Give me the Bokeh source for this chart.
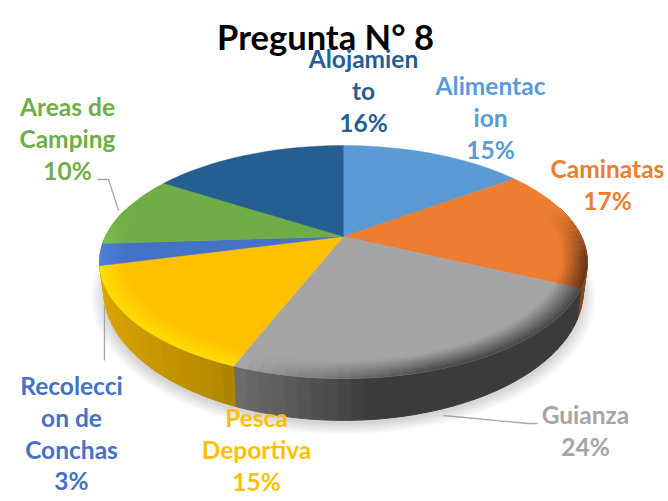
import numpy as np
from bokeh.plotting import figure
from bokeh.models import ColumnDataSource, Range1d
from bokeh.embed import file_html
from bokeh.resources import INLINE
from bokeh.core.properties import value

# ---- data
categories = ["Alimentacion", "Caminatas", "Guianza", "Pesca Deportiva",
              "Recoleccion de Conchas", "Areas de Camping", "Alojamiento"]
percents = [15, 17, 24, 15, 3, 10, 16]
label_lines = [["Alimentac", "ion", "15%"], ["Caminatas", "17%"], ["Guianza", "24%"],
               ["Pesca", "Deportiva", "15%"], ["Recolecci", "on de", "Conchas", "3%"],
               ["Areas de", "Camping", "10%"], ["Alojamien", "to", "16%"]]
colors = ["#5B9BD5", "#ED7D31", "#A5A5A5", "#FFC000", "#4472C4", "#70AD47", "#255E91"]
title = "Pregunta N\u00b0 8"

# ---- layout (page pixels of the reference)
label_x = [490, 607, 585, 256, 71, 67, 363]
label_y0 = [85, 168, 414, 417, 385, 106, 58]
LINE = 31.8
K = 0.219
TOP = dict(cx=343, cy=236, a=238, b=110.9)
BOT = dict(cx=343, cy=261.5, a=234, b=123.7)


def proj(phi, r, pl):
    x = r * np.sin(phi)
    y = r * np.cos(phi)
    d = 1 + K * y
    return pl["cx"] + pl["a"] * x / d, pl["cy"] - pl["b"] * y / d


def hex2rgb(c):
    return np.array([int(c[i:i + 2], 16) for i in (1, 3, 5)], float)


def rgb2hex(v):
    v = np.clip(np.round(v), 0, 255).astype(int)
    return "#%02x%02x%02x" % tuple(v)


p = figure(width=668, height=501, x_range=Range1d(0, 668), y_range=Range1d(501, 0),
           output_backend="svg", toolbar_location=None, min_border=0,
           background_fill_color="white", border_fill_color="white")
p.axis.visible = False
p.grid.visible = False
p.outline_line_color = None

fr = np.cumsum([0] + percents) / sum(percents) * 2 * np.pi
STEP = np.radians(2.5)

# soft shadow under the pie
full = np.linspace(0, 2 * np.pi, 180)
for i in range(7):
    sx, sy = proj(full, 1.0 + 0.008 * (6 - i), dict(BOT, cy=BOT["cy"] + 4))
    p.patch(sx, sy, fill_color="#000000", fill_alpha=0.022, line_color=None)

# sides (the far-left rim shows the gold of the neighbouring slice)
xs, ys, cs = [], [], []
for i, c in enumerate(colors):
    n = max(2, int((fr[i + 1] - fr[i]) / STEP))
    e = np.linspace(fr[i], fr[i + 1], n + 1)
    side = colors[3] if i in (4, 5) else c
    for a0, a1 in zip(e[:-1], e[1:]):
        if np.cos((a0 + a1) / 2) > 0.25:
            continue
        t0 = proj(np.array([a0, a1]), 1, TOP)
        b0 = proj(np.array([a1, a0]), 1, BOT)
        xs.append(list(t0[0]) + list(b0[0]))
        ys.append(list(t0[1]) + list(b0[1]))
        f = np.interp(np.sin((a0 + a1) / 2), [-1, -.45, .1, 1], [.88, .72, .36, .36])
        if i == 1:
            f = .58
        cs.append(rgb2hex(hex2rgb(side) * f))
p.patches("x", "y", source=ColumnDataSource(dict(x=xs, y=ys, c=cs)),
          fill_color="c", line_color="c", line_width=1.0)

# top faces
for i, c in enumerate(colors):
    n = max(2, int((fr[i + 1] - fr[i]) / STEP))
    e = np.linspace(fr[i], fr[i + 1], n + 1)
    fx, fy = proj(e, 1, TOP)
    p.patch([TOP["cx"]] + list(fx), [TOP["cy"]] + list(fy), fill_color=c, line_color=c, line_width=0.4)

# bevel
RINGS = np.linspace(0.90, 1.0, 9)
xs, ys, cs = [], [], []
for i, c in enumerate(colors):
    base = hex2rgb(c)
    n = max(2, int((fr[i + 1] - fr[i]) / STEP))
    e = np.linspace(fr[i], fr[i + 1], n + 1)
    for a0, a1 in zip(e[:-1], e[1:]):
        m = (a0 + a1) / 2
        w = np.clip((0.25 - np.cos(m)) / 0.45, 0, 1)
        if w <= 0:
            continue
        sx = np.sin(m)
        if i == 3:
            tgt = np.array([255, 222, 0.])
        else:
            tgt = base * np.interp(sx, [-1, -.5, -.2, .3, 1], [1.15, 1.2, .85, .42, .42])
        for j, (r0, r1) in enumerate(zip(RINGS[:-1], RINGS[1:])):
            t = (j + .5) / (len(RINGS) - 1)
            col = base + (tgt - base) * w * t
            o = proj(np.array([a0, a1]), r1, TOP)
            q = proj(np.array([a1, a0]), r0, TOP)
            xs.append(list(o[0]) + list(q[0]))
            ys.append(list(o[1]) + list(q[1]))
            cs.append(rgb2hex(col))
p.patches("x", "y", source=ColumnDataSource(dict(x=xs, y=ys, c=cs)),
          fill_color="c", line_color="c", line_width=0.5)

# leader lines
p.line([97, 108, 118], [179, 179, 210], line_color="#A6A6A6", line_width=1.3)
p.line([104, 104], [305, 360], line_color="#A6A6A6", line_width=1.3)
p.line([443, 527, 537], [415, 423, 423], line_color="#A6A6A6", line_width=1.3)

# labels
for i, lines in enumerate(label_lines):
    ly = [label_y0[i] + LINE * k for k in range(len(lines))]
    p.text([label_x[i]] * len(lines), ly, text=lines, text_align="center", text_baseline="middle",
           text_color=colors[i], text_font=value("Lato"), text_font_style="bold", text_font_size="24.5px")

p.text([325], [36], text=[title], text_align="center", text_baseline="middle",
       text_color="#000000", text_font=value("Lato"), text_font_style="bold", text_font_size="34.5px")

open("out.html", "w").write(file_html(p, INLINE))
